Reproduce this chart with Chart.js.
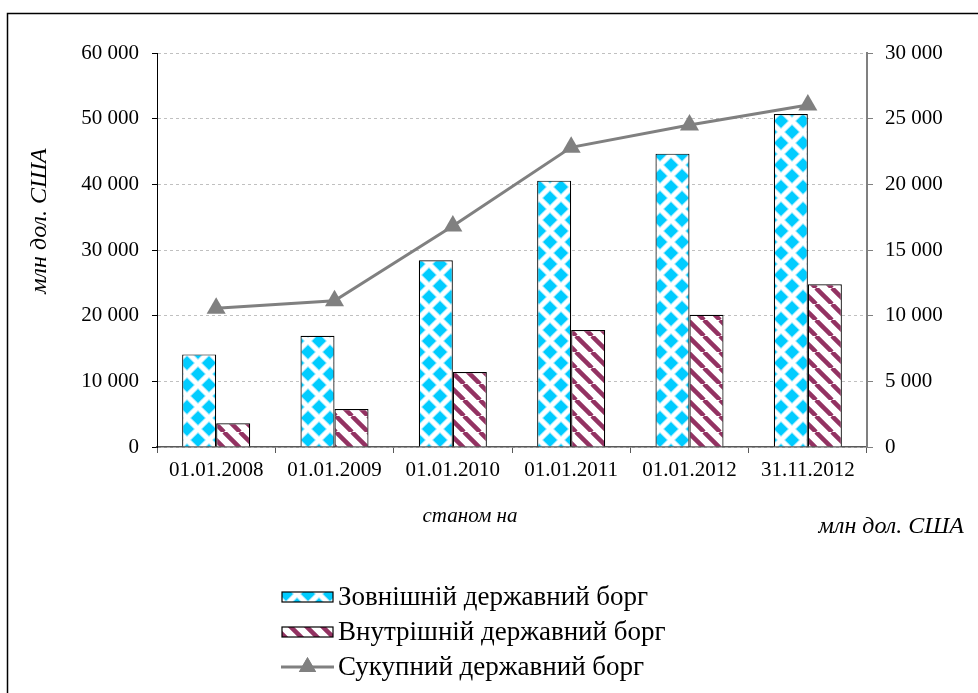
<!DOCTYPE html>
<html><head><meta charset="utf-8">
<script src="https://cdn.jsdelivr.net/npm/chart.js@4.4.0/dist/chart.umd.min.js"></script>
<style>html,body{margin:0;padding:0;background:#fff;overflow:hidden}#wrap{position:relative;width:978px;height:693px}</style>
</head><body><div id="wrap"><canvas id="c" width="978" height="693"></canvas></div>
<script>
const categories = ['01.01.2008','01.01.2009','01.01.2010','01.01.2011','01.01.2012','31.11.2012'];
const externalDebt = [14100, 16950, 28430, 40560, 44670, 50710];
const internalDebt = [3600, 5790, 11420, 17820, 20150, 24770];
const totalDebt = [10560, 11140, 16830, 22820, 24520, 26040];
const leftTickLabels = ['0','10 000','20 000','30 000','40 000','50 000','60 000'];
const rightTickLabels = ['0','5 000','10 000','15 000','20 000','25 000','30 000'];
const seriesNames = ['Зовнішній державний борг','Внутрішній державний борг','Сукупний державний борг'];
const xTitle = 'станом на';
const yTitle = 'млн дол. США';

const FONT = '"Liberation Serif", "Times New Roman", serif';
Chart.defaults.font.family = FONT;
Chart.defaults.color = '#000';

const canvas = document.getElementById('c');
const mainCtx = canvas.getContext('2d');

function diamondPattern(){
  const s = 22, c = document.createElement('canvas');
  c.width = s; c.height = s;
  const g = c.getContext('2d');
  g.fillStyle = '#fff'; g.fillRect(0,0,s,s);
  const centers = [[s/2,s/2],[0,0],[s,0],[0,s],[s,s]];
  const layers = [[8, '#9fe9ff'], [6.8, '#00ccff']];
  for (const [d, col] of layers){
    g.fillStyle = col;
    for (const [x,y] of centers){
      g.beginPath(); g.moveTo(x,y-d); g.lineTo(x+d,y); g.lineTo(x,y+d); g.lineTo(x-d,y); g.closePath(); g.fill();
    }
  }
  return mainCtx.createPattern(c,'repeat');
}
function stripePattern(){
  const s = 16, c = document.createElement('canvas');
  c.width = s; c.height = s;
  const g = c.getContext('2d');
  g.fillStyle = '#fff'; g.fillRect(0,0,s,s);
  g.strokeStyle = '#933262'; g.lineWidth = 4.5;
  for (const x0 of [-s,0,s]){
    g.beginPath(); g.moveTo(x0,0); g.lineTo(x0+s,s); g.stroke();
  }
  return mainCtx.createPattern(c,'repeat');
}
const diamond = diamondPattern();
const stripes = stripePattern();

const decor = {
  id:'decor',
  beforeDraw(chart){
    const ctx = chart.ctx;
    ctx.save();
    ctx.fillStyle = '#fff'; ctx.fillRect(0,0,chart.width,chart.height);
    ctx.strokeStyle = '#000'; ctx.lineWidth = 1.5;
    ctx.beginPath(); ctx.moveTo(7.5, chart.height); ctx.lineTo(7.5, 13.5); ctx.lineTo(chart.width, 13.5); ctx.stroke();
    ctx.restore();
  },
  afterDraw(chart){
    const ctx = chart.ctx;
    ctx.save();
    ctx.fillStyle = '#000';
    ctx.textBaseline = 'middle';
    ctx.textAlign = 'center';
    ctx.font = 'italic 21px ' + FONT;
    ctx.fillText(xTitle, 470, 516);
    ctx.font = 'italic 24px ' + FONT;
    ctx.textAlign = 'right';
    ctx.fillText(yTitle, 964, 527);
    ctx.save();
    ctx.translate(40, 221); ctx.rotate(-Math.PI/2);
    ctx.textAlign = 'center';
    ctx.fillText(yTitle, 0, 0);
    ctx.restore();
    // legend
    const ds = chart.data.datasets;
    const rows = [597, 632, 667];
    const order = [1, 2, 0];
    ctx.font = '27px ' + FONT;
    ctx.textAlign = 'left';
    order.forEach((di, r) => {
      const d = ds[di], y = rows[r];
      if (d.type === 'bar'){
        ctx.fillStyle = d.backgroundColor;
        ctx.fillRect(282, y-5, 51, 10);
        ctx.strokeStyle = '#000'; ctx.lineWidth = 1.2;
        ctx.strokeRect(282, y-5, 51, 10);
      } else {
        ctx.strokeStyle = d.borderColor; ctx.lineWidth = 3;
        ctx.beginPath(); ctx.moveTo(281, y); ctx.lineTo(334, y); ctx.stroke();
        ctx.fillStyle = d.pointBackgroundColor;
        Chart.helpers.drawPoint(ctx, {pointStyle:'triangle', radius:10, borderWidth:0, rotation:0}, 307.5, y);
        ctx.fill();
      }
      ctx.fillStyle = '#000';
      ctx.fillText(d.label, 338, y + 1);
    });
    ctx.restore();
  }
};

new Chart(canvas, {
  data: {
    labels: categories,
    datasets: [
      {type:'line', label: seriesNames[2], data: totalDebt, yAxisID:'y1', borderColor:'#808080', borderWidth:3,
       pointStyle:'triangle', pointRadius:11, pointHoverRadius:11, pointBackgroundColor:'#808080', pointBorderColor:'#808080',
       pointBorderWidth:0, tension:0, order:0},
      {type:'bar', label: seriesNames[0], data: externalDebt, yAxisID:'y', backgroundColor: diamond,
       borderColor:'#000', borderWidth:1.2, order:1, categoryPercentage:0.575, barPercentage:1.0},
      {type:'bar', label: seriesNames[1], data: internalDebt, yAxisID:'y', backgroundColor: stripes,
       borderColor:'#000', borderWidth:1.2, order:1, categoryPercentage:0.575, barPercentage:1.0}
    ]
  },
  options: {
    responsive:false, animation:false, devicePixelRatio:1,
    layout:{padding:{top:53, left:0, right:0, bottom:0}},
    plugins:{legend:{display:false}, tooltip:{enabled:false}},
    scales:{
      x:{type:'category', offset:true,
         grid:{offset:true, drawOnChartArea:false, tickLength:6, color:'#595959', tickColor:'#595959'},
         border:{color:'#595959', width:1.5},
         ticks:{font:{size:21}, color:'#000', padding:5, maxRotation:0, autoSkip:false},
         afterFit(s){ s.height = 246; }},
      y:{position:'left', min:0, max:60000,
         ticks:{stepSize:10000, callback:(v,i)=>leftTickLabels[i], font:{size:21}, color:'#000', padding:13},
         grid:{color:'#c0c0c0', tickColor:'#000', tickLength:5, tickBorderDash:[]},
         border:{color:'#000', width:1, dash:[3,3]},
         afterFit(s){ s.width = 157; }},
      y1:{position:'right', min:0, max:30000,
         ticks:{stepSize:5000, callback:(v,i)=>rightTickLabels[i], font:{size:21}, color:'#000', padding:12},
         grid:{drawOnChartArea:false, color:'#808080', tickLength:6},
         border:{color:'#808080', width:2},
         afterFit(s){ s.width = 111; }}
    }
  },
  plugins:[decor]
});
</script></body></html>
